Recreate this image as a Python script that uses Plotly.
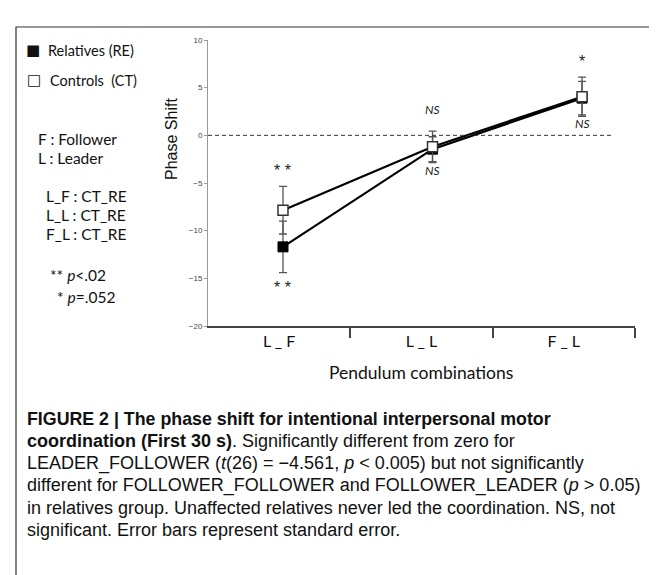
import plotly.graph_objects as go

categories = ["L _ F", "L _ L", "F _ L"]
re_vals = [-11.7, -1.45, 3.9]
re_err = [2.7, 1.3, 1.75]
ct_vals = [-7.85, -1.2, 4.05]
ct_err = [2.5, 1.65, 2.05]
sig_above = ["* *", "<i>NS</i>", "*"]
sig_below = ["* *", "<i>NS</i>", "<i>NS</i>"]
y_ticks = [-20, -15, -10, -5, 0, 5, 10]

W, H = 657, 575
L, R, T, B = 200, 30, 32, 257
PW, PH = W - L - R, H - T - B
idx = list(range(len(categories)))


def px(x):
    return (x - L) / PW


def py(y):
    return (H - B - y) / PH


fig = go.Figure()

fig.add_trace(go.Scatter(
    x=categories, y=re_vals, name="Relatives (RE)", mode="lines+markers",
    line=dict(color="black", width=2.2),
    marker=dict(symbol="square", size=10, color="black", line=dict(color="black", width=1)),
    error_y=dict(type="data", array=re_err, visible=True, color="#555", thickness=1.3, width=4),
    showlegend=False,
))
fig.add_trace(go.Scatter(
    x=categories, y=ct_vals, name="Controls (CT)", mode="lines+markers",
    line=dict(color="black", width=2.2),
    marker=dict(symbol="square", size=10, color="white", line=dict(color="#333", width=1.5)),
    error_y=dict(type="data", array=ct_err, visible=True, color="#555", thickness=1.3, width=4),
    showlegend=False,
))
# invisible helper traces for the category boundary ticks (x2) and category labels (x3)
fig.add_trace(go.Scatter(x=idx, y=re_vals, xaxis="x2", mode="markers",
                         marker=dict(opacity=0), hoverinfo="skip", showlegend=False))
fig.add_trace(go.Scatter(x=idx, y=re_vals, xaxis="x3", mode="markers",
                         marker=dict(opacity=0), hoverinfo="skip", showlegend=False))

ann = []
for i, c in enumerate(categories):
    top = max(re_vals[i] + re_err[i], ct_vals[i] + ct_err[i])
    bot = min(re_vals[i] - re_err[i], ct_vals[i] - ct_err[i])
    star_a = "*" in sig_above[i]
    star_b = "*" in sig_below[i]
    ann.append(dict(x=c, y=top, xref="x", yref="y", text=sig_above[i], showarrow=False,
                    yanchor="bottom", yshift=5 if star_a else 12,
                    font=dict(family="Liberation Sans" if star_a else "Lato",
                              size=16 if star_a else 12, color="#222")))
    ann.append(dict(x=c, y=bot, xref="x", yref="y", text=sig_below[i], showarrow=False,
                    yanchor="top", yshift=-4 if star_b else 2,
                    font=dict(family="Liberation Sans" if star_b else "Lato",
                              size=16 if star_b else 12, color="#222")))

ann.append(dict(x=px(163), y=py(131), xref="paper", yref="paper", text="Phase Shift",
                textangle=-90, showarrow=False, xanchor="center", yanchor="middle",
                font=dict(family="Liberation Sans", size=16, color="#111")))
ann.append(dict(x=px(413), y=py(364), xref="paper", yref="paper", text="Pendulum combinations",
                showarrow=False, xanchor="center", yanchor="middle",
                font=dict(family="Lato", size=17.5, color="#111")))

# legend-like key
for sym, x0, y0 in [("■", 25, 42), ("□", 26, 72)]:
    ann.append(dict(x=px(x0), y=py(y0), xref="paper", yref="paper", text=sym, showarrow=False,
                    xanchor="center", yanchor="middle",
                    font=dict(family="DejaVu Sans", size=15, color="#111")))
for t, x0, y0 in [("Relatives (RE)", 38, 42), ("Controls  (CT)", 40, 72)]:
    ann.append(dict(x=px(x0), y=py(y0), xref="paper", yref="paper", text=t, showarrow=False,
                    xanchor="left", yanchor="middle",
                    font=dict(family="Lato", size=14.5, color="#111")))

left_texts = [
    ("F : Follower", 28, 131),
    ("L : Leader", 28, 150),
    ("L_F : CT_RE", 36, 188),
    ("L_L : CT_RE", 36, 207),
    ("F_L : CT_RE", 36, 226),
    ("** <i>p</i>&lt;.02", 40, 267),
    ("* <i>p</i>=.052", 47, 289),
]
for t, x0, y0 in left_texts:
    ann.append(dict(x=px(x0), y=py(y0), xref="paper", yref="paper", text=t, showarrow=False,
                    xanchor="left", yanchor="middle",
                    font=dict(family="Lato", size=15.5, color="#111")))

caption_lines = [
    ("<b>FIGURE 2 | The phase shift for intentional interpersonal motor</b>", 17.8),
    ("<b>coordination (First 30 s)</b>. Significantly different from zero for", 18.0),
    ("LEADER_FOLLOWER (<i>t</i>(26) = −4.561, <i>p</i> &lt; 0.005) but not significantly", 18.0),
    ("different for FOLLOWER_FOLLOWER and FOLLOWER_LEADER (<i>p</i> &gt; 0.05)", 18.0),
    ("in relatives group. Unaffected relatives never led the coordination. NS, not", 18.0),
    ("significant. Error bars represent standard error.", 18.0),
]
for k, (line, fs) in enumerate(caption_lines):
    ann.append(dict(x=px(17), y=py(411 + 22.2 * k), xref="paper", yref="paper", text=line,
                    showarrow=False, xanchor="left", yanchor="middle", align="left",
                    font=dict(family="Liberation Sans", size=fs, color="#111")))

shapes = [
    dict(type="line", xref="x domain", yref="y", x0=0, x1=0.948, y0=0, y1=0,
         line=dict(color="#333", width=1, dash="4px,3px")),
    dict(type="path", xref="paper", yref="paper",
         path=f"M {px(8)} {py(575)} L {px(8)} {py(19)} L {px(650)} {py(19)} L {px(650)} {py(575)}",
         line=dict(color="#333", width=1.2)),
]

fig.update_layout(
    width=W, height=H, margin=dict(l=L, r=R, t=T, b=B),
    paper_bgcolor="white", plot_bgcolor="white",
    xaxis=dict(type="category", categoryorder="array", categoryarray=categories,
               range=[-0.5015, 2.354], showticklabels=False, ticks="", showline=False,
               showgrid=False, zeroline=False),
    xaxis2=dict(overlaying="x", anchor="y", side="bottom", range=[-0.5, len(categories) - 0.5],
                tickvals=[i + 0.5 for i in idx], showticklabels=False,
                ticks="outside", ticklen=10, tickcolor="#444", tickwidth=1.5,
                showline=True, linecolor="#444", linewidth=1.5, showgrid=False, zeroline=False),
    xaxis3=dict(overlaying="x", anchor="y", side="bottom", range=[-0.5, len(categories) - 0.5],
                tickvals=idx, ticktext=categories, ticks="", showline=False,
                showgrid=False, zeroline=False, ticklabelstandoff=4,
                tickfont=dict(family="Lato", size=16, color="#111")),
    yaxis=dict(range=[-20, 10], tickvals=y_ticks, ticks="outside", ticklen=3, tickcolor="#999",
               showline=True, linecolor="#999", linewidth=1, showgrid=False, zeroline=False,
               tickfont=dict(family="Liberation Sans", size=8, color="#444")),
    annotations=ann, shapes=shapes,
)

fig.write_html("out.html")
